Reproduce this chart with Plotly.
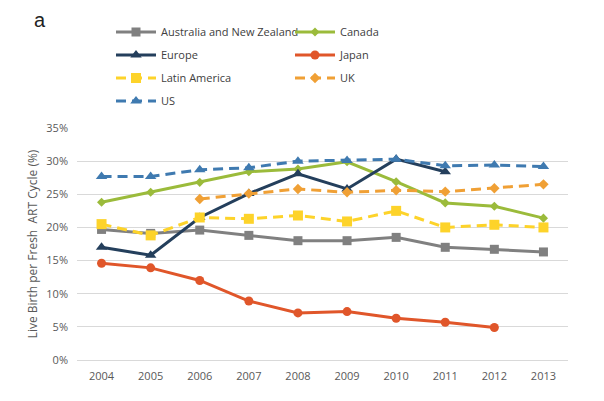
import plotly.graph_objects as go

years = ["2004", "2005", "2006", "2007", "2008", "2009", "2010", "2011", "2012", "2013"]
australia_nz = [19.7, 19.1, 19.6, 18.8, 18.0, 18.0, 18.5, 17.0, 16.7, 16.3]
canada = [23.8, 25.3, 26.8, 28.4, 28.8, 29.9, 26.9, 23.7, 23.2, 21.4]
europe = [17.0, 15.8, 21.5, 25.1, 28.1, 25.8, 30.3, 28.4, None, None]
japan = [14.6, 13.9, 12.0, 8.9, 7.1, 7.3, 6.3, 5.7, 4.9, None]
latin_america = [20.5, 18.8, 21.5, 21.3, 21.8, 20.9, 22.5, 20.0, 20.4, 20.0]
uk = [None, None, 24.3, 25.1, 25.8, 25.3, 25.6, 25.4, 25.9, 26.5]
us = [27.7, 27.7, 28.7, 29.0, 30.0, 30.1, 30.3, 29.3, 29.4, 29.2]

y_ticks = [0, 5, 10, 15, 20, 25, 30, 35]
y_tick_labels = ["0%", "5%", "10%", "15%", "20%", "25%", "30%", "35%"]

# (name, values, colour, dash, symbol, size, legend row)
series = [
    ("Australia and New Zealand", australia_nz, "#808080", "solid", "square", 9, "legend"),
    ("Canada", canada, "#9bbb3b", "solid", "diamond", 7, "legend"),
    ("Europe", europe, "#243f5c", "solid", "triangle-up", 10, "legend2"),
    ("Japan", japan, "#e0562a", "solid", "circle", 9, "legend2"),
    ("Latin America", latin_america, "#fdd32a", "10px,6px", "square", 10, "legend3"),
    ("UK", uk, "#f0a035", "10px,6px", "diamond", 8, "legend3"),
    ("US", us, "#3f7ab0", "10px,6px", "triangle-up", 10, "legend4"),
]

# the page body has an 8px default margin; lay out in window pixels
OFF = 8
W, H = 604 - OFF, 401 - OFF
L = 77 - OFF
R = 604 - 568
T = 128 - OFF
B = 401 - 360
pw = W - L - R
ph = H - T - B


def px_x(px):
    return (px - OFF - L) / pw


def px_y(py):
    return (H - B - (py - OFF)) / ph


fig = go.Figure()
for name, vals, color, dash, sym, size, leg in series:
    fig.add_trace(go.Scatter(
        x=years, y=vals, name=name, mode="lines+markers",
        line=dict(color=color, width=3, dash=dash),
        marker=dict(symbol=sym, size=size, color=color),
        connectgaps=False, legend=leg,
    ))

leg_common = dict(
    orientation="h", xanchor="left", yanchor="middle",
    entrywidth=124, entrywidthmode="pixels",
    itemwidth=40,
    font=dict(size=11, color="#404040"),
    bgcolor="rgba(0,0,0,0)",
)
rows_y = [32, 55, 78, 101]
legend_x = px_x(111)

fig.update_layout(
    width=W, height=H,
    margin=dict(l=L, r=R, t=T, b=B, autoexpand=False),
    paper_bgcolor="white", plot_bgcolor="white",
    font=dict(family="Open Sans, sans-serif", size=11, color="#595959"),
    showlegend=True,
    legend=dict(x=legend_x, y=px_y(rows_y[0]), **leg_common),
    legend2=dict(x=legend_x, y=px_y(rows_y[1]), **leg_common),
    legend3=dict(x=legend_x, y=px_y(rows_y[2]), **leg_common),
    legend4=dict(x=legend_x, y=px_y(rows_y[3]), **leg_common),
    xaxis=dict(
        type="category", range=[-0.5, 9.5], automargin=False,
        showgrid=False, showline=False, ticks="",
        ticklabelstandoff=8,
        tickfont=dict(size=11, color="#595959"),
    ),
    yaxis=dict(
        range=[0, 35], tickvals=y_ticks, ticktext=y_tick_labels, automargin=False,
        showgrid=True, gridcolor="#d9d9d9", gridwidth=1,
        zeroline=True, zerolinecolor="#d9d9d9", zerolinewidth=1,
        showline=False, ticks="",
        ticklabelstandoff=8,
        tickfont=dict(size=11, color="#595959"),
        title=dict(text="Live Birth per Fresh  ART Cycle (%)", font=dict(size=12, color="#595959"), standoff=6),
    ),
    annotations=[
        dict(text="a", x=px_x(40), y=px_y(20), xref="paper", yref="paper", showarrow=False,
             font=dict(size=20, color="#222222", family="Liberation Sans, Arial"),
             xanchor="center", yanchor="middle"),
    ],
)
fig.add_shape(type="line", xref="paper", yref="paper",
              x0=px_x(603), x1=px_x(603), y0=px_y(401), y1=px_y(0),
              line=dict(color="#d0d0d0", width=1))

fig.write_html("out.html")
